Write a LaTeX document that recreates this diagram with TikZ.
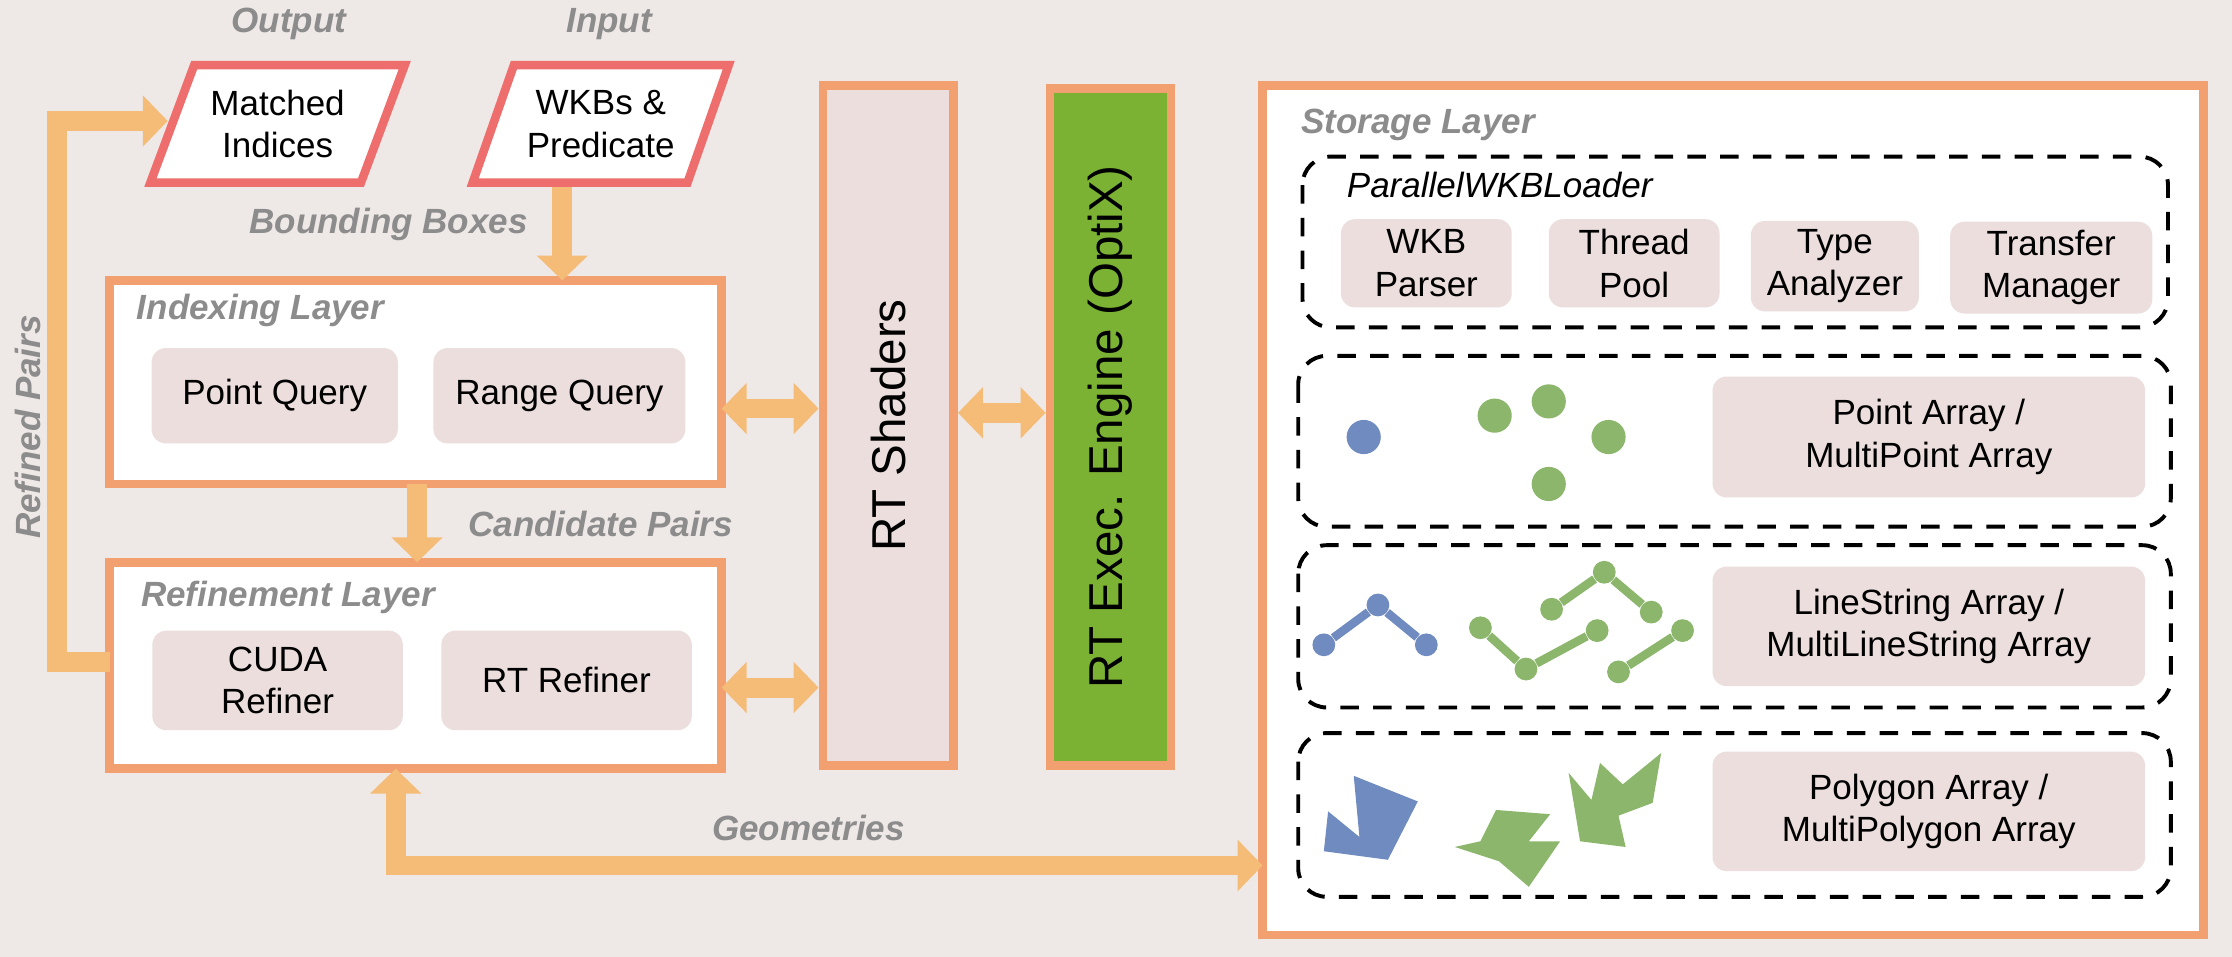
\documentclass[tikz,border=0pt]{standalone}
\usepackage{fontspec}
\setmainfont{Liberation Sans}
\usetikzlibrary{positioning,shapes.geometric,arrows.meta}

\definecolor{bgc}{HTML}{EEE8E6}
\definecolor{orc}{HTML}{F2A070}
\definecolor{arc}{HTML}{F5BC78}
\definecolor{pkc}{HTML}{EBDEDC}
\definecolor{rdc}{HTML}{EE6E6E}
\definecolor{grc}{HTML}{7CB234}
\definecolor{lbc}{HTML}{8C8C8C}
\definecolor{blc}{HTML}{6F8BC0}
\definecolor{gnc}{HTML}{8BB66B}

\tikzset{
  txt/.style={font=\fontsize{14}{17}\selectfont, align=center},
  lbl/.style={font=\fontsize{14}{17}\selectfont\bfseries\itshape, text=lbc},
  layer/.style={draw=orc, line width=1.2mm, fill=white},
  item/.style={txt, fill=pkc, rounded corners=2mm},
  group/.style={draw, dash pattern=on 2.6mm off 2mm, line width=0.55mm, rounded corners=4mm},
  io/.style={txt, trapezium, trapezium left angle=65, trapezium right angle=115,
    trapezium stretches=true, draw=rdc, line width=1.2mm, fill=white,
    minimum width=3.6cm, minimum height=1.65cm},
  fat/.style={draw=arc, line width=2.8mm, -{Triangle[length=3.5mm,width=7mm]}},
  fatb/.style={draw=arc, line width=2.8mm, {Triangle[length=3.5mm,width=7mm]}-{Triangle[length=3.5mm,width=7mm]}},
  dot/.style={circle, inner sep=0pt, minimum size=0.48cm},
  sdot/.style={circle, inner sep=0pt, minimum size=0.32cm},
}

\begin{document}
\begin{tikzpicture}[x=0.02cm, y=-0.02cm]

	% background
	\fill [bgc] (0,0) rectangle (1568,672);

	% inputs and outputs
	\node [io] (out) at (195,87) {Matched\\Indices};
	\node [io] (in) at (422,87) {WKBs \&\\Predicate};
	\node [lbl] at (203,17) {Output};
	\node [lbl] at (428,17) {Input};

	% indexing layer
	\draw [layer] (77,197) rectangle (507,340);
	\coordinate (idx-top) at (395,197);
	\coordinate (idx-bot) at (293,340);
	\coordinate (idx-right) at (507,287);
	\node [lbl, anchor=west] at (90,218) {Indexing Layer};
	\node [item, minimum width=3.46cm, minimum height=1.34cm] (pq) at (193,278) {Point Query};
	\node [item, minimum width=3.54cm, minimum height=1.34cm] (rq) at (393,278) {Range Query};

	% refinement layer
	\draw [layer] (77,395) rectangle (507,540);
	\coordinate (ref-top) at (293,395);
	\coordinate (ref-left) at (77,465);
	\coordinate (ref-right) at (507,483);
	\coordinate (ref-bot) at (278,540);
	\node [lbl, anchor=west] at (93,420) {Refinement Layer};
	\node [item, minimum width=3.52cm, minimum height=1.4cm] (cuda) at (195,478) {CUDA\\Refiner};
	\node [item, minimum width=3.52cm, minimum height=1.4cm] (rtr) at (398,478) {RT Refiner};

	% shaders and engine
	\node [draw=orc, line width=1.2mm, fill=pkc, minimum width=1.84cm, minimum height=9.56cm] (sh) at (624,299) {};
	\node [txt, rotate=90, font=\fontsize{19}{22}\selectfont] at (sh) {RT Shaders};
	\node [draw=orc, line width=1.2mm, fill=grc, minimum width=1.7cm, minimum height=9.52cm] (eng) at (780,300) {};
	\node [txt, rotate=90, font=\fontsize{19}{22}\selectfont] at (eng) {RT Exec. Engine (OptiX)};

	% storage layer
	\draw [layer] (887,60) rectangle (1548,657);
	\coordinate (sto-left) at (887,608);
	\node [lbl, anchor=west] at (908,88) {Storage Layer};

	% loader group
	\draw [group] (915,110) rectangle (1523,230);
	\node [font=\fontsize{14}{17}\selectfont\itshape, anchor=west] at (940,130) {ParallelWKBLoader};
	\node [item, minimum width=2.4cm, minimum height=1.24cm] (wkb) at (1002,185) {WKB\\Parser};
	\node [item, minimum width=2.4cm, minimum height=1.24cm] (tp) at (1148,185) {Thread\\Pool};
	\node [item, minimum width=2.36cm, minimum height=1.24cm] (ta) at (1289,187) {Type\\Analyzer};
	\node [item, minimum width=2.84cm, minimum height=1.24cm] (tm) at (1441,188) {Transfer\\Manager};

	% point group
	\draw [group] (912,250) rectangle (1525,370);
	\node [item, minimum width=6.08cm, minimum height=1.7cm] (pa) at (1355,307) {Point Array /\\MultiPoint Array};
	\node [dot, fill=blc] (p0) at (958,307) {};
	\foreach \x/\y [count=\i] in {1050/292, 1088/282, 1130/307, 1088/340}
		\node [dot, fill=gnc] (mp-\i) at (\x,\y) {};

	% linestring group
	\draw [group] (912,383) rectangle (1525,497);
	\node [item, minimum width=6.08cm, minimum height=1.68cm] (la) at (1355,440) {LineString Array /\\MultiLineString Array};
	\foreach \x/\y [count=\i] in {930/453, 968/425, 1002/453}
		\node [sdot, fill=blc] (ls-\i) at (\x,\y) {};
	\draw [blc, line width=1.2mm] (ls-1) -- (ls-2) -- (ls-3);
	\foreach \x/\y [count=\i] in {1040/441, 1072/470, 1122/443, 1090/428, 1127/402, 1160/430, 1137/472, 1182/443}
		\node [sdot, fill=gnc] (ml-\i) at (\x,\y) {};
	\draw [gnc, line width=1.2mm] (ml-1) -- (ml-2) -- (ml-3);
	\draw [gnc, line width=1.2mm] (ml-4) -- (ml-5) -- (ml-6);
	\draw [gnc, line width=1.2mm] (ml-7) -- (ml-8);

	% polygon group
	\draw [group] (912,515) rectangle (1525,630);
	\node [item, minimum width=6.08cm, minimum height=1.68cm] (pg) at (1355,570) {Polygon Array /\\MultiPolygon Array};
	\fill [blc] (933,570) -- (955,588) -- (951,545) -- (996,563) -- (975,604) -- (930,598) -- cycle;
	\fill [gnc] (1051,569) -- (1089,572) -- (1074,591) -- (1096,591) -- (1074,623) -- (1053,605) -- (1022,595) -- (1040,591) -- cycle;
	\fill [gnc] (1102,543) -- (1118,562) -- (1124,536) -- (1140,551) -- (1167,529) -- (1161,564) -- (1137,573) -- (1142,595) -- (1110,591) -- cycle;

	% connectors
	\draw [fat] (in.south -| idx-top) -- (idx-top);
	\node [lbl] at (273,158) {Bounding Boxes};
	\draw [fat] (idx-bot) -- (ref-top);
	\node [lbl] at (422,368) {Candidate Pairs};
	\draw [fatb] (idx-right) -- (idx-right -| sh.west);
	\draw [fatb] (ref-right) -- (ref-right -| sh.west);
	\draw [fatb] (sh.east |- 0,290) -- (eng.west |- 0,290);
	\draw [fat] (ref-left) -- (40,465) -- (40,85) -- (out.west |- 0,85);
	\node [lbl, rotate=90] at (20,300) {Refined Pairs};
	\draw [fatb] (ref-bot) -- (278,608) -- (sto-left);
	\node [lbl] at (568,582) {Geometries};

\end{tikzpicture}
\end{document}
